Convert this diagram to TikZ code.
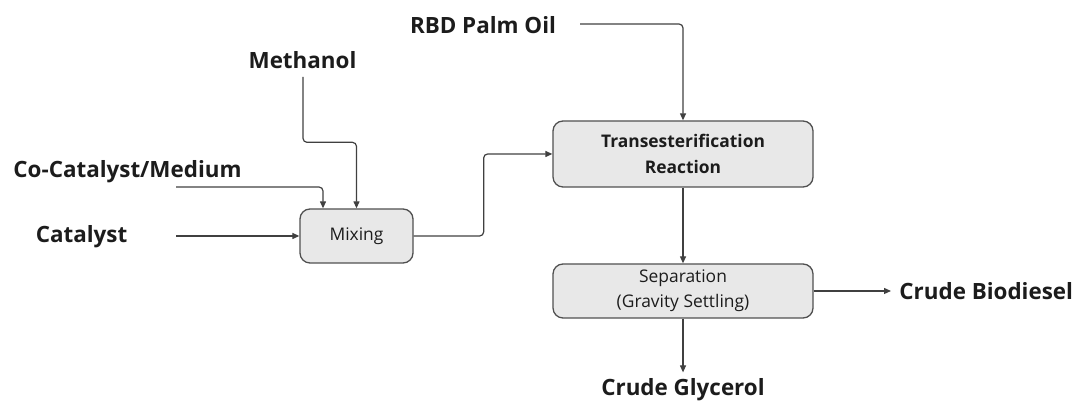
\documentclass[tikz,border=0pt]{standalone}
\usepackage{fontspec}
\setmainfont{Open Sans}
\usepackage{tikz}
\usetikzlibrary{calc,arrows.meta,positioning}
\definecolor{flowLine}{RGB}{64,64,64}
\definecolor{flowEdge}{RGB}{80,80,80}
\definecolor{flowFill}{RGB}{232,232,232}
\definecolor{flowText}{RGB}{28,28,28}

\begin{document}
\begin{tikzpicture}[x=0.5pt,y=0.5pt,
  unit/.style={draw=flowEdge, fill=flowFill, line width=0.65pt, rounded corners=5pt,
    align=center, text=flowText, inner sep=0pt, font=\fontsize{8.7}{12.5}\selectfont},
  stream/.style={text=flowText, inner sep=0pt, font=\fontsize{11.2}{13}\selectfont\bfseries},
  feed/.style={flowLine, line width=0.6pt, rounded corners=2pt,
    -{Triangle[length=3.5pt,width=3pt]}}]
\useasboundingbox (0,0) rectangle (1074,405);

% process units
\node[unit, minimum width=56.5pt, minimum height=27pt] (mix) at (356.5,169) {Mixing};
\node[unit, minimum width=130pt, minimum height=33pt, font=\fontsize{8.7}{13}\selectfont\bfseries]
  (trans) at (683,251) {Transesterification\\Reaction};
\node[unit, minimum width=130pt, minimum height=27pt] (sep) at (683,114)
  {Separation\\(Gravity Settling)};

% feeds and products
\node[stream] (palm) at (483,380) {RBD Palm Oil};
\node[stream] (meth) at (302.5,345) {Methanol};
\node[stream] (cocat) at (127.5,233) {Co-Catalyst/Medium};
\node[stream] (cat) at (81.5,168) {Catalyst};
\node[stream, anchor=west] (bio) at (899,114) {Crude Biodiesel};
\node[stream] (gly) at (683,15) {Crude Glycerol};

\coordinate (palmin) at (580,381);
\coordinate (methin) at (303,328);
\coordinate (cocatin) at (176,218);
\coordinate (catin) at (176,169);

\draw[feed] (palmin) -| (trans.north);
\draw[feed] (methin) |- ([yshift=33pt]mix.north) -- (mix.north);
\draw[feed] (cocatin) -| ([xshift=-16.75pt]mix.north);
\draw[feed] (catin) -- (mix.west);
\draw[feed] (mix.east) -- ++(35pt,0) |- (trans.west);
\draw[feed] (trans.south) -- (sep.north);
\draw[feed] (sep.east) -- ([xshift=-4pt]bio.west);
\draw[feed] (sep.south) -- ([yshift=3pt]gly.north);
\end{tikzpicture}
\end{document}
